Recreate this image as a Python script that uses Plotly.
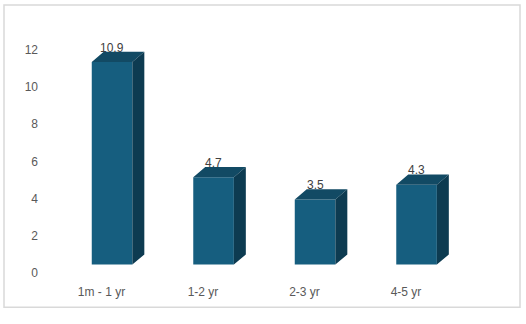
import plotly.graph_objects as go

categories = ["1m - 1 yr", "1-2 yr", "2-3 yr", "4-5 yr"]
values = [10.9, 4.7, 3.5, 4.3]
y_ticks = [0, 2, 4, 6, 8, 10, 12]

# 3D styling constants (axis units)
W = 0.40        # front face width
SHIFT = 0.104   # front face centre offset from category position
BASE = 0.45     # floor lift of the front face
DX = 0.118      # depth offset in x
DY = 0.55       # depth offset in y

FRONT = "#165e7f"
TOP = "#124a64"
SIDE = "#0d3b51"

W_PX, H_PX = 526, 324
xs = list(range(len(categories)))
centres = [i + SHIFT for i in xs]

fig = go.Figure()
fig.add_trace(go.Bar(x=centres, y=values, base=BASE, width=W,
                     marker=dict(color=FRONT, line=dict(width=0)),
                     hoverinfo="skip", showlegend=False))

top_x, top_y, side_x, side_y = [], [], [], []
for c, v in zip(centres, values):
    x0, x1 = c - W / 2, c + W / 2
    y0, y1 = BASE, BASE + v
    top_x += [x0, x1, x1 + DX, x0 + DX, x0, None]
    top_y += [y1, y1, y1 + DY, y1 + DY, y1, None]
    side_x += [x1, x1 + DX, x1 + DX, x1, x1, None]
    side_y += [y0, y0 + DY, y1 + DY, y1, y0, None]

fig.add_trace(go.Scatter(x=top_x, y=top_y, mode="lines", fill="toself",
                         fillcolor=TOP, line=dict(width=0, color=TOP),
                         hoverinfo="skip", showlegend=False))
fig.add_trace(go.Scatter(x=side_x, y=side_y, mode="lines", fill="toself",
                         fillcolor=SIDE, line=dict(width=0, color=SIDE),
                         hoverinfo="skip", showlegend=False))

for c, v in zip(centres, values):
    fig.add_annotation(x=c, y=BASE + v + DY, text=f"{v}", showarrow=False,
                       yanchor="bottom", xanchor="center", yshift=-5,
                       font=dict(family="Liberation Sans, Arial", size=12, color="#404040"))

left_px, right_px = 45, 515
top_px, bottom_px = 20, 279
px_per_unit_y = 19.0
px_per_cat = 101.5
first_cat_px = 101.5

x_lo = (left_px - first_cat_px) / px_per_cat
x_hi = (right_px - first_cat_px) / px_per_cat
y_hi = (bottom_px - top_px) / px_per_unit_y

fig.update_layout(
    width=W_PX, height=H_PX, autosize=False,
    margin=dict(l=0, r=0, t=0, b=0, pad=0),
    paper_bgcolor="white", plot_bgcolor="white",
    font=dict(family="Liberation Sans, Arial", size=12, color="#595959"),
    xaxis=dict(domain=[left_px / W_PX, right_px / W_PX], range=[x_lo, x_hi],
               tickvals=xs, ticktext=categories, showgrid=False, zeroline=False,
               showline=False, ticks="", ticklabelstandoff=10,
               tickfont=dict(size=12, color="#595959"), fixedrange=True),
    yaxis=dict(domain=[1 - bottom_px / H_PX, 1 - top_px / H_PX], range=[0, y_hi],
               tickvals=y_ticks, showgrid=False, zeroline=False, showline=False,
               ticks="", ticklabelstandoff=6,
               tickfont=dict(size=12, color="#595959"), fixedrange=True),
    shapes=[dict(type="rect", xref="paper", yref="paper",
                 x0=4 / W_PX, x1=520 / W_PX, y0=1 - 314 / H_PX, y1=1 - 5 / H_PX,
                 line=dict(color="#d9d9d9", width=1.5), fillcolor="rgba(0,0,0,0)",
                 layer="below")],
)

fig.write_html("out.html", config={"responsive": False})
